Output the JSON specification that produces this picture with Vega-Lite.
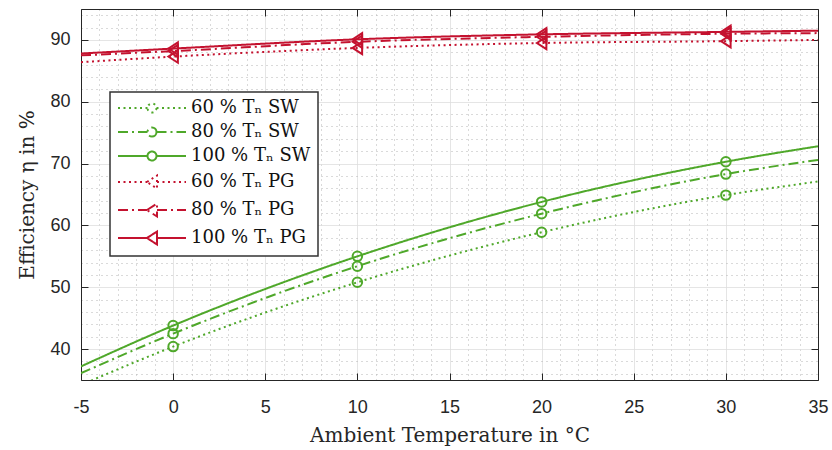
{
  "$schema": "https://vega.github.io/schema/vega-lite/v6.json",
  "width": 737,
  "height": 371,
  "autosize": "none",
  "padding": {"left": 81, "top": 9, "right": 14, "bottom": 70},
  "background": "white",
  "config": {
    "view": {"stroke": null},
    "axis": {"domainColor": "#262626", "domainWidth": 1, "tickColor": "#262626", "labelColor": "#262626", "titleColor": "#262626", "labelFont": "Liberation Sans", "labelFontSize": 18, "titleFont": "DejaVu Serif", "titleFontSize": 20, "titleFontWeight": "normal"}
  },
  "data": {"values": [
    {"T": -5, "eta": 34.2, "series": "60 % Tₙ SW"},
    {"T": 0, "eta": 40.4, "series": "60 % Tₙ SW"},
    {"T": 10, "eta": 50.8, "series": "60 % Tₙ SW"},
    {"T": 20, "eta": 58.9, "series": "60 % Tₙ SW"},
    {"T": 30, "eta": 64.9, "series": "60 % Tₙ SW"},
    {"T": 35, "eta": 67.1, "series": "60 % Tₙ SW"},
    {"T": -5, "eta": 36.1, "series": "80 % Tₙ SW"},
    {"T": 0, "eta": 42.5, "series": "80 % Tₙ SW"},
    {"T": 10, "eta": 53.4, "series": "80 % Tₙ SW"},
    {"T": 20, "eta": 61.9, "series": "80 % Tₙ SW"},
    {"T": 30, "eta": 68.3, "series": "80 % Tₙ SW"},
    {"T": 35, "eta": 70.6, "series": "80 % Tₙ SW"},
    {"T": -5, "eta": 37.2, "series": "100 % Tₙ SW"},
    {"T": 0, "eta": 43.8, "series": "100 % Tₙ SW"},
    {"T": 10, "eta": 55.0, "series": "100 % Tₙ SW"},
    {"T": 20, "eta": 63.8, "series": "100 % Tₙ SW"},
    {"T": 30, "eta": 70.3, "series": "100 % Tₙ SW"},
    {"T": 35, "eta": 72.8, "series": "100 % Tₙ SW"},
    {"T": -5, "eta": 86.4, "series": "60 % Tₙ PG"},
    {"T": 0, "eta": 87.3, "series": "60 % Tₙ PG"},
    {"T": 10, "eta": 88.7, "series": "60 % Tₙ PG"},
    {"T": 20, "eta": 89.5, "series": "60 % Tₙ PG"},
    {"T": 30, "eta": 89.8, "series": "60 % Tₙ PG"},
    {"T": 35, "eta": 90.0, "series": "60 % Tₙ PG"},
    {"T": -5, "eta": 87.5, "series": "80 % Tₙ PG"},
    {"T": 0, "eta": 88.2, "series": "80 % Tₙ PG"},
    {"T": 10, "eta": 89.7, "series": "80 % Tₙ PG"},
    {"T": 20, "eta": 90.5, "series": "80 % Tₙ PG"},
    {"T": 30, "eta": 91.0, "series": "80 % Tₙ PG"},
    {"T": 35, "eta": 91.1, "series": "80 % Tₙ PG"},
    {"T": -5, "eta": 87.8, "series": "100 % Tₙ PG"},
    {"T": 0, "eta": 88.6, "series": "100 % Tₙ PG"},
    {"T": 10, "eta": 90.1, "series": "100 % Tₙ PG"},
    {"T": 20, "eta": 90.9, "series": "100 % Tₙ PG"},
    {"T": 30, "eta": 91.3, "series": "100 % Tₙ PG"},
    {"T": 35, "eta": 91.5, "series": "100 % Tₙ PG"}
  ]},
  "layer": [
    {
      "mark": {"type": "line", "interpolate": "monotone", "strokeWidth": 2, "clip": true},
      "encoding": {
        "x": {"field": "T", "type": "quantitative", "scale": {"domain": [-5, 35], "nice": false, "zero": false},
          "axis": {"orient": "bottom", "title": "Ambient Temperature in °C", "values": [-5,-4,-3,-2,-1,0,1,2,3,4,5,6,7,8,9,10,11,12,13,14,15,16,17,18,19,20,21,22,23,24,25,26,27,28,29,30,31,32,33,34,35],
            "labelExpr": "datum.value % 5 === 0 ? replace(datum.label, '−', '-') : ''",
            "grid": true,
            "gridColor": {"condition": {"test": "datum.value % 5 === 0", "value": "#dcdcdc"}, "value": "#b4b4b4"},
            "gridDash": {"condition": {"test": "datum.value % 5 === 0", "value": [1, 0]}, "value": [1, 4]},
            "gridWidth": 1,
            "tickSize": {"condition": {"test": "datum.value % 5 === 0", "value": -7}, "value": 0},
            "labelPadding": 25, "titlePadding": 9, "labelFlush": false}},
        "y": {"field": "eta", "type": "quantitative", "scale": {"domain": [35, 95], "nice": false, "zero": false},
          "axis": {"orient": "left", "title": "Efficiency η in %", "values": [36,38,40,42,44,46,48,50,52,54,56,58,60,62,64,66,68,70,72,74,76,78,80,82,84,86,88,90,92,94],
            "labelExpr": "datum.value % 10 === 0 ? datum.label : ''",
            "grid": true,
            "gridColor": {"condition": {"test": "datum.value % 10 === 0", "value": "#dcdcdc"}, "value": "#b4b4b4"},
            "gridDash": {"condition": {"test": "datum.value % 10 === 0", "value": [1, 0]}, "value": [1, 4]},
            "gridWidth": 1,
            "tickSize": {"condition": {"test": "datum.value % 10 === 0", "value": -7}, "value": 0},
            "labelPadding": 18, "titlePadding": 12}},
        "color": {"field": "series", "type": "nominal",
          "scale": {"domain": ["60 % Tₙ SW", "80 % Tₙ SW", "100 % Tₙ SW", "60 % Tₙ PG", "80 % Tₙ PG", "100 % Tₙ PG"],
            "range": ["#4fa82a", "#4fa82a", "#4fa82a", "#c4122f", "#c4122f", "#c4122f"]},
          "legend": {"orient": "none", "legendX": 29, "legendY": 83, "title": null, "symbolSize": 100, "symbolOffset": 26, "labelOffset": 30,
            "labelFont": "DejaVu Serif", "labelFontSize": 18, "labelColor": "#111111", "rowPadding": 6, "padding": 7,
            "strokeColor": "#333333", "fillColor": "white", "symbolStrokeWidth": 2,
            "encode": {
              "symbols": {"update": {
                "shape": {"signal": "test(/SW/, datum.value) ? 'M-6.8,0H-0.9M0.9,0H6.8M0.9,0A0.9,0.9,0,1,1,-0.9,0A0.9,0.9,0,1,1,0.9,0' : 'M-6.8,0H-1M1,0H6.8M-1,0L1,-1.3L1,1.3Z'"},
                "fill": {"value": "transparent"},
                "strokeWidth": {"value": 2}
              }},
              "legend": {"update": {"strokeWidth": {"value": 1.5}}}
            }}},
        "strokeDash": {"field": "series", "type": "nominal",
          "scale": {"domain": ["60 % Tₙ SW", "80 % Tₙ SW", "100 % Tₙ SW", "60 % Tₙ PG", "80 % Tₙ PG", "100 % Tₙ PG"],
            "range": [[2, 3.5], [10, 4, 2, 4], [1, 0], [2, 3.5], [10, 4, 2, 4], [1, 0]]}}
      }
    },
    {
      "transform": [{"filter": "datum.T === 0 || datum.T === 10 || datum.T === 20 || datum.T === 30"}],
      "mark": {"type": "point", "filled": false, "strokeWidth": 2, "opacity": 1, "clip": true},
      "encoding": {
        "x": {"field": "T", "type": "quantitative",
          "axis": {"orient": "top", "values": [-5, 0, 5, 10, 15, 20, 25, 30, 35], "labels": false, "grid": false, "tickSize": -7, "title": null}},
        "y": {"field": "eta", "type": "quantitative",
          "axis": {"orient": "right", "values": [40, 50, 60, 70, 80, 90], "labels": false, "grid": false, "tickSize": -7, "title": null}},
        "color": {"field": "series", "type": "nominal"},
        "shape": {"condition": {"test": "test(/SW/, datum.series)", "value": "circle"}, "value": "M-1,0L1,-1.3L1,1.3Z"},
        "size": {"value": 90}
      }
    }
  ],
  "resolve": {"axis": {"x": "independent", "y": "independent"}}
}
